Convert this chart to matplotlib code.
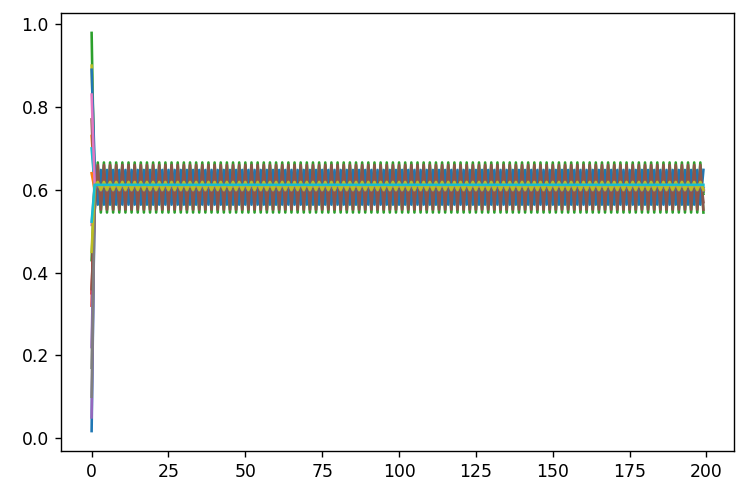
import numpy as np
import matplotlib
matplotlib.use("Agg")
import matplotlib.pyplot as plt

# 20 trajectories, 200 steps each: start value, value at step 1,
# then a settled 2-cycle (value on even steps, value on odd steps)
start_vals = [0.017, 0.73, 0.979, 0.32, 0.05, 0.77, 0.515, 0.17, 0.90, 0.70,
              0.89, 0.64, 0.43, 0.35, 0.22, 0.36, 0.83, 0.10, 0.45, 0.523]
step1_vals = [0.60, 0.62, 0.55, 0.62, 0.60, 0.57, 0.61, 0.62, 0.61, 0.61,
              0.66, 0.60, 0.62, 0.60, 0.60, 0.55, 0.61, 0.60, 0.61, 0.612]
even_vals = [0.610, 0.620, 0.666, 0.620, 0.615, 0.640, 0.615, 0.620, 0.612, 0.610,
             0.564, 0.615, 0.625, 0.618, 0.612, 0.660, 0.614, 0.618, 0.619, 0.612]
odd_vals = [0.600, 0.600, 0.545, 0.598, 0.600, 0.570, 0.600, 0.595, 0.605, 0.606,
            0.648, 0.600, 0.590, 0.600, 0.602, 0.552, 0.602, 0.598, 0.600, 0.612]
n_steps = 200

fig = plt.figure(figsize=(6, 4), dpi=124.5)
ax = fig.add_axes([0.0817, 0.0944, 0.9009, 0.8795])

t = np.arange(n_steps)
for s0, s1, ev, od in zip(start_vals, step1_vals, even_vals, odd_vals):
    cycle = np.tile([ev, od], (n_steps - 2) // 2)
    y = np.concatenate([[s0, s1], cycle])
    ax.plot(t, y)

ax.set_xticks([0, 25, 50, 75, 100, 125, 150, 175, 200])
ax.set_yticks([0.0, 0.2, 0.4, 0.6, 0.8, 1.0])

fig.savefig("out.png", dpi=124.5)
